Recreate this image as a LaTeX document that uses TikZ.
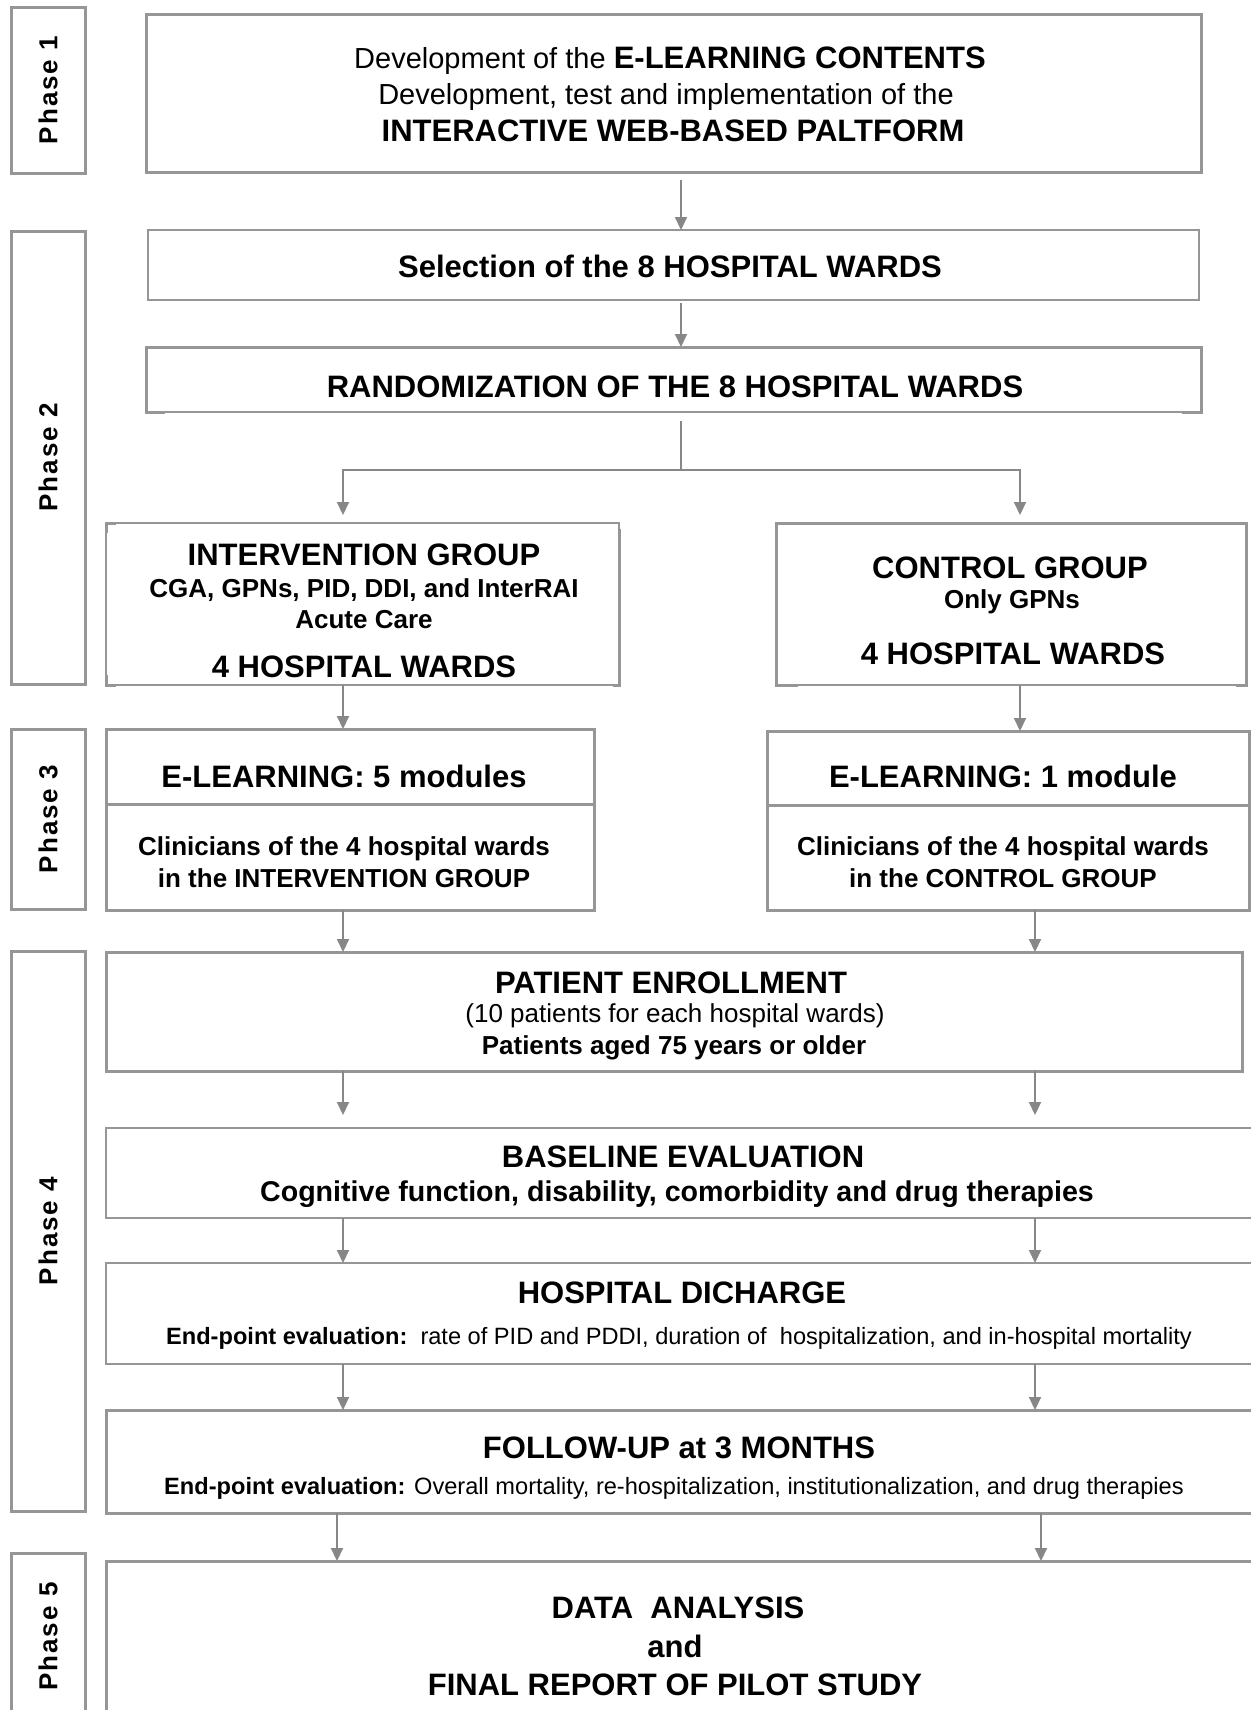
\documentclass[tikz,border=0pt]{standalone}
\usepackage{fontspec}
\setmainfont{Liberation Sans}
\usetikzlibrary{arrows.meta,calc}
\definecolor{bgray}{RGB}{150,150,150}
\definecolor{agray}{RGB}{135,135,135}
\newcommand\myT{\fontsize{15.5}{18}\selectfont\bfseries}
\newcommand\myR{\fontsize{14.5}{17}\selectfont\mdseries}
\newcommand\myS{\fontsize{13}{15}\selectfont\bfseries}
\newcommand\mySR{\fontsize{13}{15}\selectfont\mdseries}
\newcommand\myB{\fontsize{14.3}{17}\selectfont\bfseries}
\newcommand\myE{\fontsize{11.8}{14}\selectfont\mdseries}
\newcommand\myPh[1]{P\kern1pt h\kern1pt a\kern1pt s\kern1pt e\kern1pt\ #1}
\begin{document}
\begin{tikzpicture}[x=0.5pt,y=-0.5pt,
  box/.style={draw=bgray, rectangle, inner sep=0pt, outer sep=0pt},
  thk/.style={draw=bgray, line width=1.5pt, line join=miter},
  txt/.style={inner sep=0pt, anchor=base, text=black},
  arr/.style={draw=agray, line width=1pt, -{Triangle[length=6.5pt,width=6pt]}},
  lnk/.style={draw=agray, line width=1pt},
  phase/.style={box, line width=1.5pt, rotate=90, font=\myS, minimum height=37pt}]
\useasboundingbox (0,0) rectangle (1251,1710);
\clip (0,0) rectangle (1251,1710);

% phase boxes
\node[phase, minimum width=83pt]    (ph1) at (48,90)     {\myPh{1}};
\node[phase, minimum width=226.5pt] (ph2) at (48,457.5)  {\myPh{2}};
\node[phase, minimum width=90pt]    (ph3) at (48,819)    {\myPh{3}};
\node[phase, minimum width=280pt]   (ph4) at (48,1231)   {\myPh{4}};
\node[phase, minimum width=83.5pt]  (ph5) at (48,1636.5) {\myPh{5}};

% main boxes
\node[box, line width=1.5pt, minimum width=527.5pt, minimum height=79pt]   (b1)   at (673.5,93)    {};
\node[box, line width=1pt,   minimum width=525.5pt, minimum height=35pt]   (sel)  at (673.5,265)   {};
\node[box, line width=1pt,   minimum width=527.5pt, minimum height=32.5pt] (rand) at (673.5,379.5) {};
\node[box, line width=1pt,   minimum width=256.5pt, minimum height=81pt]   (int)  at (362.5,604)   {};
\node[box, line width=1pt,   minimum width=235pt,   minimum height=81pt]   (ctl)  at (1011,604)    {};
\node[box, line width=1.5pt, minimum width=244pt,   minimum height=90.5pt] (el5)  at (350,819.5)   {};
\node[box, line width=1.5pt, minimum width=241pt,   minimum height=89.5pt] (el1)  at (1008,820.5)  {};
\node[box, line width=1.5pt, minimum width=568pt,   minimum height=59.5pt] (pat)  at (674,1011.5)  {};
\node[box, line width=1.25pt,minimum width=576pt,   minimum height=45pt]   (base) at (682,1173)    {};
\node[box, line width=1pt,   minimum width=576pt,   minimum height=50.5pt] (dis)  at (682,1313.5)  {};
\node[box, line width=1.5pt, minimum width=576pt,   minimum height=51.5pt] (fol)  at (682,1461.5)  {};
\node[box, line width=1.5pt, minimum width=576pt,   minimum height=79.5pt] (fin)  at (682,1640.5)  {};

% thick parts of the partly thin boxes
\draw[thk] ([xshift=9.5pt]rand.south west) -- (rand.south west) -- (rand.north west) -- (rand.north east) -- (rand.south east) -- ([xshift=-9.5pt]rand.south east);
\draw[thk] ([xshift=5pt]int.north west) -- (int.north west) -- ([yshift=-5pt]int.north west);
\draw[thk] ([yshift=5pt]int.south west) -- (int.south west) -- ([xshift=5pt]int.south west);
\draw[thk] ([xshift=-3pt]int.south east) -- (int.south east) -- ([yshift=-3pt]int.north east);
\draw[thk] ([xshift=11pt]ctl.south west) -- (ctl.south west) -- (ctl.north west) -- (ctl.north east) -- (ctl.south east) -- ([xshift=-5pt]ctl.south east);

% dividers
\coordinate (dv5) at (0,804);
\coordinate (dv1) at (0,805);
\draw[thk] (el5.west |- dv5) -- (el5.east |- dv5);
\draw[thk] (el1.west |- dv1) -- (el1.east |- dv1);

% texts
\node[txt] (t1a) at (670,68) {\myR Development of the \myT E-LEARNING CONTENTS};
\node[txt] (t1b) at (666,104) {\myR Development, test and implementation of the};
\node[txt] (t1c) at (673,141) {\myT INTERACTIVE WEB-BASED PALTFORM};
\node[txt] (tsel) at (670,277) {\myT Selection of the 8 HOSPITAL WARDS};
\node[txt] (trand) at (675,397) {\myT RANDOMIZATION OF THE 8 HOSPITAL WARDS};
\node[txt] (tint1) at (364,565) {\myT INTERVENTION GROUP};
\node[txt] (tint2) at (364,597) {\myS CGA, GPNs, PID, DDI, and InterRAI};
\node[txt] (tint3) at (364,628) {\myS Acute Care};
\node[txt] (tint4) at (364,677) {\myT 4 HOSPITAL WARDS};
\node[txt] (tctl1) at (1010,578) {\myT CONTROL GROUP};
\node[txt] (tctl2) at (1012,608) {\myS Only GPNs};
\node[txt] (tctl3) at (1013,664) {\myT 4 HOSPITAL WARDS};
\node[txt] (tel5a) at (344,787) {\myT E-LEARNING: 5 modules};
\node[txt] (tel5b) at (344,855) {\myS Clinicians of the 4 hospital wards};
\node[txt] (tel5c) at (344,887) {\myS in the INTERVENTION GROUP};
\node[txt] (tel1a) at (1003,787) {\myT E-LEARNING: 1 module};
\node[txt] (tel1b) at (1003,855) {\myS Clinicians of the 4 hospital wards};
\node[txt] (tel1c) at (1003,887) {\myS in the CONTROL GROUP};
\node[txt] (tpat1) at (671,993) {\myT PATIENT ENROLLMENT};
\node[txt] (tpat2) at (675,1022) {\mySR (10 patients for each hospital wards)};
\node[txt] (tpat3) at (674,1054) {\myS Patients aged 75 years or older};
\node[txt] (tbase1) at (683,1167) {\myT BASELINE EVALUATION};
\node[txt] (tbase2) at (677,1201) {\myB Cognitive function, disability, comorbidity and drug therapies};
\node[txt] (tdis1) at (682,1303) {\myT HOSPITAL DICHARGE};
\node[txt] (tdis2) at (679,1344) {\myE\textbf{End-point evaluation:}\ \ rate of PID and PDDI, duration of\ \ hospitalization, and in-hospital mortality};
\node[txt] (tfol1) at (679,1458) {\myT FOLLOW-UP at 3 MONTHS};
\node[txt] (tfol2) at (674,1494) {\myE\textbf{End-point evaluation:} Overall mortality, re-hospitalization, institutionalization, and drug therapies};
\node[txt] (tfin1) at (678,1618) {\myT DATA\ \ ANALYSIS};
\node[txt] (tfin2) at (675,1657) {\myT and};
\node[txt] (tfin3) at (675,1695) {\myT FINAL REPORT OF PILOT STUDY};

% connector columns
\coordinate (cM)  at (681,0);
\coordinate (cL)  at (343,0);
\coordinate (cR)  at (1035,0);
\coordinate (cRc) at (1020,0);
\coordinate (cL5) at (337,0);
\coordinate (cR5) at (1041,0);
\coordinate (split) at (681,470);

% connectors
\draw[arr, shorten <=4pt] (b1.south -| cM) -- (sel.north -| cM);
\draw[arr, shorten <=1.5pt] (sel.south -| cM) -- (rand.north -| cM);
\draw[lnk, shorten <=4.5pt] (rand.south -| cM) -- (split);
\draw[arr, shorten >=4pt] (split) -| (int.north -| cL);
\draw[arr, shorten >=4pt] (split) -| (ctl.north -| cRc);
\draw[arr] (int.south -| cL) -- (el5.north -| cL);
\draw[arr] (ctl.south -| cRc) -- (el1.north -| cRc);
\draw[arr] (el5.south -| cL) -- (pat.north -| cL);
\draw[arr] (el1.south -| cR) -- (pat.north -| cR);
\draw[arr, shorten >=6.5pt] (pat.south -| cL) -- (base.north -| cL);
\draw[arr, shorten >=6.5pt] (pat.south -| cR) -- (base.north -| cR);
\draw[arr] (base.south -| cL) -- (dis.north -| cL);
\draw[arr] (base.south -| cR) -- (dis.north -| cR);
\draw[arr] (dis.south -| cL) -- (fol.north -| cL);
\draw[arr] (dis.south -| cR) -- (fol.north -| cR);
\draw[arr] (fol.south -| cL5) -- (fin.north -| cL5);
\draw[arr] (fol.south -| cR5) -- (fin.north -| cR5);
\end{tikzpicture}
\end{document}
